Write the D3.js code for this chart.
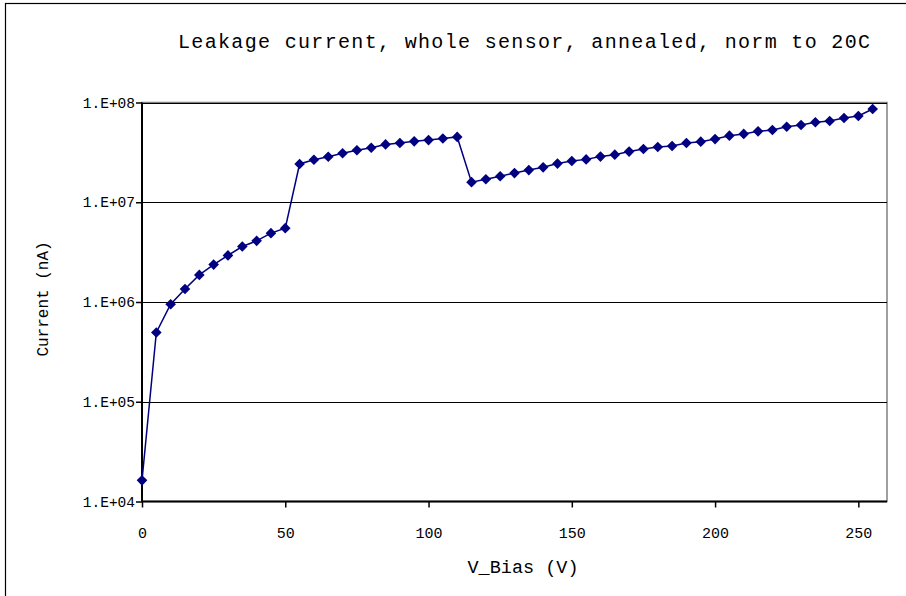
<!DOCTYPE html>
<html lang="en">
<head>
<meta charset="UTF-8">
<title>Leakage current</title>
<style>
  body { margin: 0; background: #fff; }
  text { font-family: "Liberation Mono", "Courier New", monospace; fill: #000; }
</style>
</head>
<body>
<script src="https://cdnjs.cloudflare.com/ajax/libs/d3/7.8.5/d3.min.js"></script>
<script>
// bias voltage (V)
let vBias = [0, 5, 10, 15, 20, 25, 30, 35, 40, 45, 50, 55, 60, 65, 70, 75, 80, 85, 90, 95,
    100, 105, 110, 115, 120, 125, 130, 135, 140, 145, 150, 155, 160, 165, 170, 175, 180, 185, 190, 195,
    200, 205, 210, 215, 220, 225, 230, 235, 240, 245, 250, 255]
// leakage current (nA), normalised to 20C
let current = [1.63e4, 4.95e5, 9.5e5, 1.35e6, 1.87e6, 2.37e6, 2.93e6, 3.6e6, 4.1e6, 4.9e6, 5.5e6,
    2.42e7, 2.67e7, 2.86e7, 3.1e7, 3.32e7, 3.52e7, 3.8e7, 3.93e7, 4.08e7, 4.2e7, 4.35e7, 4.52e7,
    1.59e7, 1.7e7, 1.82e7, 1.96e7, 2.1e7, 2.24e7, 2.44e7, 2.59e7, 2.69e7, 2.87e7, 3.0e7, 3.22e7,
    3.42e7, 3.58e7, 3.66e7, 3.93e7, 4.05e7, 4.3e7, 4.65e7, 4.84e7, 5.14e7, 5.3e7, 5.72e7, 5.95e7,
    6.33e7, 6.53e7, 7.0e7, 7.33e7, 8.6e7]

let xTicks = [0, 50, 100, 150, 200, 250]
let yTicks = [1e4, 1e5, 1e6, 1e7, 1e8]
let yTickLabels = ["1.E+04", "1.E+05", "1.E+06", "1.E+07", "1.E+08"]

let width = 906
let height = 596
let plotL = 142, plotR = 887, plotT = 102.5, plotB = 501.5

let svg = d3.select("body").append("svg")
    .attr("width", width)
    .attr("height", height)

// outer chart frame (runs off the window at right and bottom)
svg.append("rect")
    .attr("x", 5.5).attr("y", 3.5)
    .attr("width", 1000).attr("height", 700)
    .attr("fill", "none").attr("stroke", "#000").attr("stroke-width", 1.2)

let x = d3.scaleLinear().domain([0, 260]).range([plotL, plotR])
let y = d3.scaleLog().domain([1e4, 1e8]).range([plotB, plotT])

// plot area border
svg.append("rect")
    .attr("x", plotL).attr("y", plotT)
    .attr("width", plotR - plotL).attr("height", plotB - plotT)
    .attr("fill", "none").attr("stroke", "#808080").attr("stroke-width", 1.5)

// gridlines
svg.append("g").selectAll("line")
    .data(yTicks.slice(1))
    .join("line")
    .attr("x1", plotL).attr("x2", plotR)
    .attr("y1", d => Math.round(y(d)) + 0.5).attr("y2", d => Math.round(y(d)) + 0.5)
    .attr("stroke", "#000").attr("stroke-width", 1)

// axes
let xAxis = svg.append("g")
    .attr("transform", `translate(0,${plotB})`)
    .call(d3.axisBottom(x).tickValues(xTicks).tickSize(6).tickPadding(20).tickFormat(d3.format("d")))
xAxis.select(".domain").attr("stroke", "#000").attr("stroke-width", 2)
    .attr("d", `M${plotL},0H${plotR}`)
xAxis.selectAll(".tick line").attr("stroke", "#000").attr("stroke-width", 1.5)
xAxis.selectAll("text").attr("font-size", 15).attr("font-family", "Liberation Mono").attr("fill", "#000")

let yAxis = svg.append("g")
    .attr("transform", `translate(${plotL},0)`)
    .call(d3.axisLeft(y).tickValues(yTicks).tickSize(6).tickPadding(1)
        .tickFormat((d, i) => yTickLabels[i]))
yAxis.select(".domain").attr("stroke", "#000").attr("stroke-width", 2)
    .attr("d", `M0,${plotT}V${plotB}`)
yAxis.selectAll(".tick line").attr("stroke", "#000").attr("stroke-width", 1.5)
yAxis.selectAll("text").attr("font-size", 14.5).attr("font-family", "Liberation Mono").attr("fill", "#000")

// series
let pts = vBias.map((v, i) => [v, current[i]])

svg.append("path")
    .datum(pts)
    .attr("fill", "none")
    .attr("stroke", "#000080")
    .attr("stroke-width", 1.5)
    .attr("d", d3.line().x(d => x(d[0])).y(d => y(d[1])))

svg.append("g").selectAll("path")
    .data(pts)
    .join("path")
    .attr("transform", d => `translate(${x(d[0])},${y(d[1])})`)
    .attr("d", d3.symbol(d3.symbolDiamond2, 72))
    .attr("fill", "#000080")

// titles
svg.append("text")
    .attr("x", 178).attr("y", 48)
    .attr("font-size", 20)
    .attr("textLength", 692)
    .text("Leakage current, whole sensor, annealed, norm to 20C")

svg.append("text")
    .attr("x", 523).attr("y", 573)
    .attr("text-anchor", "middle")
    .attr("font-size", 18.5)
    .text("V_Bias (V)")

svg.append("text")
    .attr("transform", "translate(48,299) rotate(-90)")
    .attr("text-anchor", "middle")
    .attr("font-size", 16)
    .text("Current (nA)")
</script>
</body>
</html>
